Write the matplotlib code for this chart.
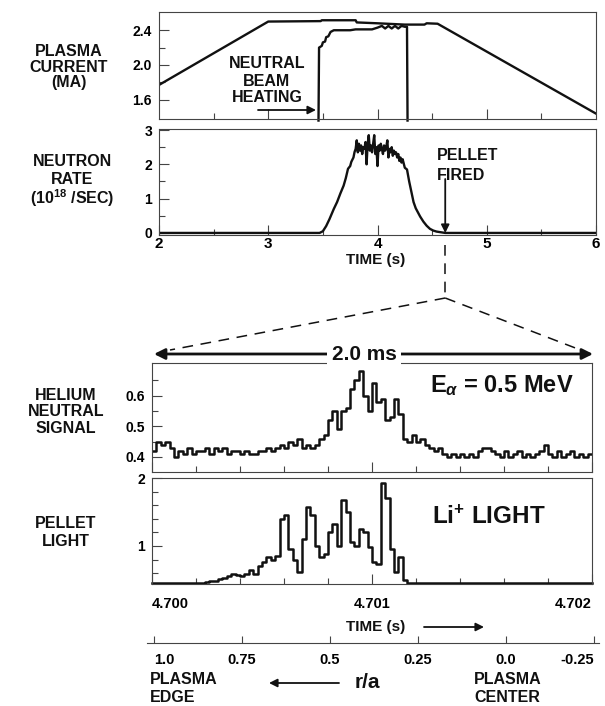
import numpy as np
import matplotlib
matplotlib.use("Agg")
import matplotlib.pyplot as plt
from matplotlib.lines import Line2D
from matplotlib.patches import FancyArrowPatch

plt.rcParams['font.family'] = ['Liberation Sans', 'DejaVu Sans']
plt.rcParams['font.weight'] = 'bold'
plt.rcParams['mathtext.fontset'] = 'custom'
plt.rcParams['mathtext.rm'] = 'Liberation Sans:bold'
plt.rcParams['mathtext.it'] = 'Liberation Sans:italic:bold'
plt.rcParams['mathtext.bf'] = 'Liberation Sans:bold'

# ---------------- data ----------------
current_t = [2.0, 3.0, 3.48, 3.49, 3.80, 3.81, 4.00, 4.25, 4.43, 4.45, 4.55, 6.0]
current_ma = [1.77, 2.50, 2.505, 2.515, 2.515, 2.49, 2.48, 2.465, 2.465, 2.48, 2.475, 1.44]

beam_t = [3.46, 3.465, 3.49, 3.50, 3.52, 3.53, 3.55, 3.57, 3.60, 3.75, 3.80, 3.95,
          4.00, 4.04, 4.07, 4.10, 4.13, 4.16, 4.19, 4.22, 4.25, 4.27, 4.275]
beam_ma = [1.36, 2.20, 2.22, 2.26, 2.27, 2.32, 2.33, 2.38, 2.40, 2.40, 2.41, 2.41,
           2.43, 2.45, 2.42, 2.45, 2.42, 2.45, 2.42, 2.45, 2.44, 2.44, 1.36]

neutron_t = [2.0, 3.45, 3.47, 3.50, 3.53, 3.56, 3.60, 3.63, 3.66, 3.69, 3.71, 3.73,
             3.75, 3.76, 3.78, 3.79,
             3.80, 3.81, 3.82, 3.83, 3.84, 3.85, 3.86, 3.87, 3.88, 3.89,
             3.90, 3.91, 3.92, 3.93, 3.94, 3.95, 3.96, 3.97, 3.98, 3.99,
             4.00, 4.01, 4.02, 4.03, 4.04, 4.05, 4.06, 4.07, 4.08, 4.09,
             4.10, 4.11, 4.12, 4.13, 4.14, 4.15, 4.16, 4.17, 4.18, 4.19,
             4.20, 4.21, 4.22, 4.23, 4.25, 4.27, 4.29, 4.30, 4.32, 4.33,
             4.35, 4.37, 4.39, 4.42, 4.45, 4.48, 4.51, 4.54, 4.58, 4.62, 6.0]
neutron_rate = [0.0, 0.0, 0.0, 0.05, 0.2, 0.4, 0.7, 0.9, 1.15, 1.38, 1.6, 1.87,
                1.95, 2.07, 2.2, 2.36,
                2.45, 2.70, 2.35, 2.60, 2.40, 2.55, 2.30, 2.50, 2.45, 2.65,
                2.00, 2.60, 2.85, 2.40, 2.55, 2.35, 2.60, 2.85, 2.30, 2.50,
                1.95, 2.55, 2.40, 2.60, 2.45, 2.30, 2.55, 2.40, 2.50, 2.70,
                2.20, 2.45, 2.35, 2.50, 2.25, 2.40, 2.30, 2.35, 2.20, 2.30,
                2.10, 2.20, 2.05, 2.15, 1.90, 1.85, 1.50, 1.35, 1.05, 0.90,
                0.72, 0.60, 0.48, 0.33, 0.21, 0.12, 0.07, 0.04, 0.02, 0.0, 0.0]

pellet_fired_t = 4.62

# fast signals, 20 microsecond samples starting at 4.700 s
sample_us = np.arange(0, 2000, 20)
helium_signal = [
    0.42, 0.45, 0.44, 0.45, 0.43, 0.40, 0.42, 0.41, 0.43, 0.41,
    0.42, 0.42, 0.43, 0.41, 0.43, 0.42, 0.43, 0.41, 0.42, 0.42,
    0.41, 0.42, 0.41, 0.41, 0.42, 0.42, 0.43, 0.42, 0.43, 0.44,
    0.43, 0.45, 0.44, 0.46, 0.43, 0.44, 0.43, 0.44, 0.46, 0.47,
    0.52, 0.55, 0.49, 0.55, 0.56, 0.62, 0.65, 0.68, 0.60, 0.55,
    0.64, 0.58, 0.59, 0.52, 0.53, 0.59, 0.54, 0.46, 0.45, 0.47,
    0.45, 0.46, 0.44, 0.43, 0.42, 0.43, 0.41, 0.40, 0.41, 0.40,
    0.41, 0.40, 0.41, 0.40, 0.42, 0.43, 0.43, 0.42, 0.41, 0.40,
    0.42, 0.40, 0.41, 0.42, 0.40, 0.41, 0.40, 0.41, 0.42, 0.44,
    0.41, 0.40, 0.42, 0.40, 0.41, 0.42, 0.40, 0.41, 0.40, 0.41]
pellet_light = [
    0.45, 0.45, 0.45, 0.45, 0.45, 0.45, 0.45, 0.45, 0.45, 0.45,
    0.45, 0.46, 0.47, 0.48, 0.49, 0.51, 0.53, 0.56, 0.59, 0.57,
    0.56, 0.59, 0.65, 0.59, 0.70, 0.76, 0.84, 0.80, 0.85, 1.40,
    1.45, 0.95, 0.80, 0.62, 1.10, 1.58, 1.45, 1.00, 0.84, 0.88,
    1.20, 1.33, 1.00, 1.68, 1.50, 1.06, 1.00, 1.25, 1.20, 0.98,
    0.76, 0.73, 1.93, 1.70, 0.96, 0.62, 0.84, 0.50, 0.45, 0.45,
    0.45, 0.45, 0.45, 0.45, 0.45, 0.45, 0.45, 0.45, 0.45, 0.45,
    0.45, 0.45, 0.45, 0.45, 0.45, 0.45, 0.45, 0.45, 0.45, 0.45,
    0.45, 0.45, 0.45, 0.45, 0.45, 0.45, 0.45, 0.45, 0.45, 0.45,
    0.45, 0.45, 0.45, 0.45, 0.45, 0.45, 0.45, 0.45, 0.45, 0.45]

ra_ticks = [1.0, 0.75, 0.5, 0.25, 0.0, -0.25]
ra_labels = ['1.0', '0.75', '0.5', '0.25', '0.0', '-0.25']

# ---------------- figure ----------------
W, H = 605, 706
fig = plt.figure(figsize=(W / 100, H / 100), dpi=100)
fig.patch.set_facecolor('white')


def rect(x0, y0, x1, y1):
    return [x0 / W, 1 - y1 / H, (x1 - x0) / W, (y1 - y0) / H]


def fp(x, y):
    return (x / W, 1 - y / H)


INK = '#111111'
SPINE = '#444444'


def style(ax, lab=10):
    for s in ax.spines.values():
        s.set_color(SPINE)
        s.set_linewidth(0.8)
    ax.tick_params(which='both', direction='in', top=False, right=False,
                   color=SPINE, width=0.8, labelsize=lab)
    ax.tick_params(which='major', length=7)
    ax.tick_params(which='minor', length=4.5)


ax1 = fig.add_axes(rect(159, 12, 596, 119))
ax2 = fig.add_axes(rect(159, 129, 596, 235))
ax3 = fig.add_axes(rect(152, 363, 592, 472))
ax4 = fig.add_axes(rect(152, 478, 592, 584))

# --- plasma current
style(ax1)
ax1.plot(current_t, current_ma, color=INK, lw=1.7)
ax1.plot(beam_t, beam_ma, color=INK, lw=1.7, clip_on=False)
ax1.set_xlim(2, 6)
ax1.set_ylim(1.378, 2.61)
ax1.set_yticks([1.6, 2.0, 2.4], ['1.6', '2.0', '2.4'])
ax1.set_yticks([1.8, 2.2], minor=True)
ax1.set_xticks([3, 4, 5], [])
ax1.set_xticks([2.5, 3.5, 4.5, 5.5], minor=True)
ax1.tick_params(axis='y', pad=5)

# --- neutron rate
style(ax2)
ax2.plot(neutron_t, neutron_rate, color=INK, lw=1.7)
ax2.set_xlim(2, 6)
ax2.set_ylim(-0.06, 3.03)
ax2.set_yticks([0, 1, 2, 3], ['0', '1', '2', '3'])
ax2.set_yticks([0.5, 1.5, 2.5], minor=True)
ax2.set_xticks([2, 3, 4, 5, 6], ['2', '3', '4', '5', '6'])
ax2.set_xticks([2.5, 3.5, 4.5, 5.5], minor=True)
ax2.tick_params(axis='x', labelsize=11, pad=1.5)
ax2.tick_params(axis='y', pad=5)

# --- helium neutral
t_fast = 4.700 + sample_us * 1e-6
t_step = np.append(t_fast, 4.702)
style(ax3)
ax3.step(t_step, np.append(helium_signal, helium_signal[-1]), where='post',
         color=INK, lw=1.8)
ax3.set_xlim(4.700, 4.702)
ax3.set_ylim(0.351, 0.706)
ax3.set_yticks([0.4, 0.5, 0.6], ['0.4', '0.5', '0.6'])
ax3.set_yticks([0.45, 0.55, 0.65], minor=True)
ax3.set_xticks([4.700, 4.701, 4.702], [])
ax3.set_xticks(4.700 + np.arange(1, 10) * 0.0002, minor=True)
ax3.tick_params(axis='y', pad=5)

# --- pellet light
style(ax4)
ax4.step(t_step, np.append(pellet_light, pellet_light[-1]), where='post',
         color=INK, lw=1.8, clip_on=False)
ax4.set_xlim(4.700, 4.702)
ax4.set_ylim(0.44, 2.0)
ax4.set_yticks([1, 2], ['1', '2'])
ax4.set_yticks([0.6, 0.8, 1.2, 1.4, 1.6, 1.8], minor=True)
ax4.set_xticks([4.700, 4.701, 4.702], ['4.700', '4.701', '4.702'])
ax4.set_xticks(4.700 + np.arange(1, 10) * 0.0002, minor=True)
ax4.tick_params(axis='x', labelsize=10.5, pad=9)
ax4.tick_params(axis='y', pad=5)
xl = ax4.get_xticklabels()
xl[0].set_ha('left')
xl[2].set_ha('right')

# --- r/a axis
ax5 = fig.add_axes(rect(147, 633, 599, 643))
ax5.set_xlim(1.0 + 7 / 352, -0.25 - 5 / 352)
ax5.set_ylim(0, 1)
for k in ['left', 'right', 'top']:
    ax5.spines[k].set_visible(False)
ax5.spines['bottom'].set_color(SPINE)
ax5.spines['bottom'].set_linewidth(0.8)
ax5.patch.set_alpha(0)
ax5.set_yticks([])
ax5.set_xticks(ra_ticks, ra_labels)
ax5.tick_params(axis='x', direction='in', length=5, width=0.8, color=SPINE,
                labelsize=10.5, pad=7)
rl = ax5.get_xticklabels()
rl[0].set_ha('left')
rl[-1].set_ha('right')

# ---------------- annotations ----------------
def ftext(x, y, s, size=11, ha='center', va='center', **kw):
    fig.text(x / W, 1 - y / H, s, fontsize=size, ha=ha, va=va,
             fontweight='bold', color=INK, **kw)


def farrow(p0, p1, style='-|>', lw=1.3, ms=12, ls='-'):
    a = FancyArrowPatch(fp(*p0), fp(*p1), transform=fig.transFigure,
                        arrowstyle=style, mutation_scale=ms, lw=lw,
                        color=INK, linestyle=ls, shrinkA=0, shrinkB=0)
    fig.add_artist(a)


for s, y in [('PLASMA', 52), ('CURRENT', 67), ('(MA)', 82)]:
    ftext(69, y, s, size=11.5)
for s, y in [('NEUTRON', 162), ('RATE', 179), ('(10$^{18}$ /SEC)', 198)]:
    ftext(72, y, s, size=11.5)
for s, y in [('HELIUM', 395), ('NEUTRAL', 411), ('SIGNAL', 428)]:
    ftext(66, y, s, size=11.5)
for s, y in [('PELLET', 524), ('LIGHT', 542)]:
    ftext(66, y, s, size=11.5)

for s, y in [('NEUTRAL', 64), ('BEAM', 81), ('HEATING', 97)]:
    ftext(267, y, s, size=11.5)
farrow((258, 110), (316, 110), lw=1.3, ms=12)

for s, y in [('PELLET', 156), ('FIRED', 175)]:
    ftext(437, y, s, ha='left', size=11.5)

# pellet arrow and dashed zoom lines (x from the data coordinate)
px_pellet = ax2.transData.transform((pellet_fired_t, 0))[0]
xpp = px_pellet * W / fig.bbox.width
farrow((xpp, 179), (xpp, 233), lw=1.3, ms=12)

dash = dict(color=INK, lw=1.1, dashes=(7, 5))
fig.add_artist(Line2D([xpp / W, xpp / W], [1 - 245 / H, 1 - 298 / H],
                      transform=fig.transFigure, **dash))
fig.add_artist(Line2D([xpp / W, 170 / W], [1 - 298 / H, 1 - 350 / H],
                      transform=fig.transFigure, **dash))
fig.add_artist(Line2D([xpp / W, 578 / W], [1 - 298 / H, 1 - 349 / H],
                      transform=fig.transFigure, **dash))

ftext(376, 260, 'TIME (s)', size=11)

# 2.0 ms double arrow
farrow((364, 354), (154, 354), lw=2, ms=16)
farrow((364, 354), (593, 354), lw=2, ms=16)
ftext(364, 354, '2.0 ms', size=15,
      bbox=dict(facecolor='white', edgecolor='none', pad=3))

ftext(430, 386, r'E$_{\alpha}$ = 0.5 MeV', size=17, ha='left')
ftext(432, 517, r'Li$^{+}$ LIGHT', size=17.5, ha='left')

ftext(376, 627, 'TIME (s)', size=11)
farrow((424, 627), (484, 627), lw=1.3, ms=12)

ftext(150, 679, 'PLASMA', ha='left', size=11.5)
ftext(150, 698, 'EDGE', ha='left', size=11.5)
ftext(474, 679, 'PLASMA', ha='left', size=11.5)
ftext(474, 698, 'CENTER', ha='left', size=11.5)
farrow((339, 683), (269, 683), lw=1.3, ms=12)
ftext(367, 683, 'r/a', size=15)

fig.savefig('out.png', dpi=100, facecolor='white')
